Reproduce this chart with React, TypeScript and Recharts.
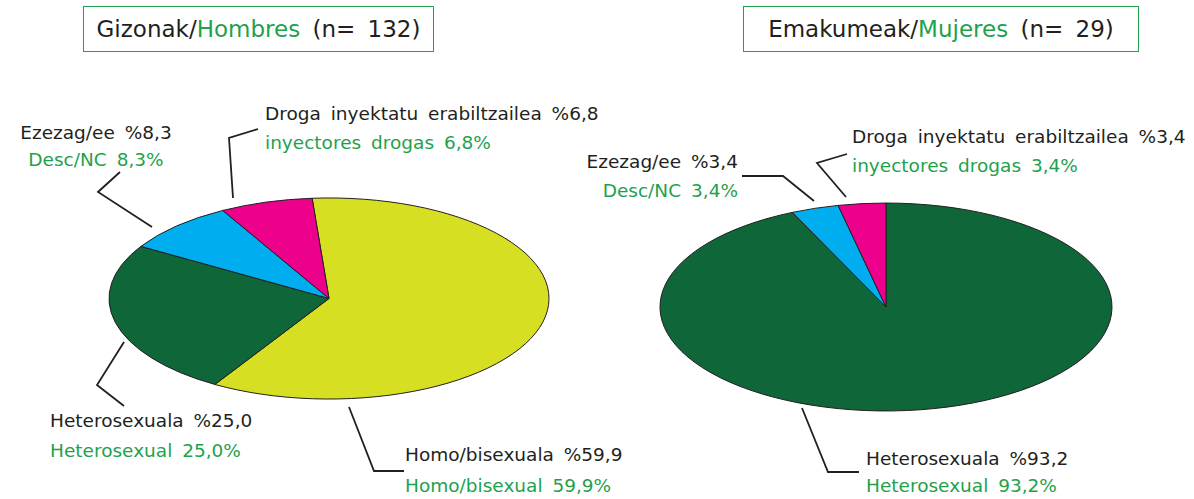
import React from "react";
import { PieChart, Pie, Cell } from "recharts";

// Gizonak / Hombres (n=132)
const MEN_EU = ["Homo/bisexuala", "Heterosexuala", "Ezezag/ee", "Droga inyektatu erabiltzailea"];
const MEN_ES = ["Homo/bisexual", "Heterosexual", "Desc/NC", "inyectores drogas"];
const MEN_VALUES = [59.9, 25.0, 8.3, 6.8];
const MEN_COLORS = ["#D7DF23", "#0F6638", "#00AEEF", "#EC008C"];

// Emakumeak / Mujeres (n=29)
const WOMEN_EU = ["Heterosexuala", "Ezezag/ee", "Droga inyektatu erabiltzailea"];
const WOMEN_ES = ["Heterosexual", "Desc/NC", "inyectores drogas"];
const WOMEN_VALUES = [93.2, 3.4, 3.4];
const WOMEN_COLORS = ["#0F6638", "#00AEEF", "#EC008C"];

const BLACK = "#231F20";
const GREEN = "#1FA14D";
const FONT = "'DejaVu Sans', sans-serif";

// flattening of the pies (ry / rx)
const MEN_PIE = { cx: 329, cy: 298.5, r: 220, k: 0.457 };
const WOMEN_PIE = { cx: 886, cy: 307, r: 226, k: 0.46 };

// label placement: leader line, text anchor, baselines
type LabelPos = { line: number[][]; x: number; y1: number; y2: number; anchor: "start" | "middle" | "end" };
const MEN_LABEL_POS: LabelPos[] = [
  { line: [[349, 407], [374, 471], [404, 471]], x: 405, y1: 461, y2: 492, anchor: "start" },
  { line: [[124, 342], [97, 385], [124, 406]], x: 50, y1: 427, y2: 457, anchor: "start" },
  { line: [[120, 172], [98, 192], [152, 227]], x: 96, y1: 139, y2: 166, anchor: "middle" },
  { line: [[258, 129], [229, 138], [233, 198]], x: 265, y1: 120, y2: 149, anchor: "start" },
];
const WOMEN_LABEL_POS: LabelPos[] = [
  { line: [[802, 408], [828, 472], [859, 472]], x: 866, y1: 465, y2: 492, anchor: "start" },
  { line: [[742, 176], [783, 176], [814, 201]], x: 738, y1: 168, y2: 197, anchor: "end" },
  { line: [[847, 154], [817, 163], [846, 197]], x: 852, y1: 143, y2: 172, anchor: "start" },
];

const fmt = (v: number) => v.toFixed(1).replace(".", ",");

const makeData = (eu: string[], es: string[], values: number[]) =>
  values.map((v, i) => ({ name: eu[i], es: es[i], value: v }));

const menData = makeData(MEN_EU, MEN_ES, MEN_VALUES);
const womenData = makeData(WOMEN_EU, WOMEN_ES, WOMEN_VALUES);

const makeLabel = (positions: LabelPos[]) => (props: any) => {
  const { index, payload } = props;
  const p = positions[index];
  const item = payload?.payload ?? payload;
  return (
    <g key={`lbl-${index}`}>
      <polyline
        points={p.line.map((pt) => pt.join(",")).join(" ")}
        fill="none"
        stroke={BLACK}
        strokeWidth={1.8}
      />
      <text x={p.x} y={p.y1} textAnchor={p.anchor} fill={BLACK} fontSize={18.5} fontFamily={FONT} wordSpacing={4}>
        {`${item.name} %${fmt(item.value)}`}
      </text>
      <text x={p.x} y={p.y2} textAnchor={p.anchor} fill={GREEN} fontSize={18.5} fontFamily={FONT} wordSpacing={4}>
        {`${item.es} ${fmt(item.value)}%`}
      </text>
    </g>
  );
};

const flatten = (cls: string, p: { cy: number; k: number }) =>
  `.${cls} .recharts-sector, path.${cls}-s { transform-box: view-box; transform-origin: 0 0; transform: translateY(${
    p.cy * (1 - p.k)
  }px) scaleY(${p.k}); vector-effect: non-scaling-stroke; }`;

const TitleBox = ({ left, width, eu, es, n }: { left: number; width: number; eu: string; es: string; n: number }) => (
  <div
    style={{
      position: "absolute",
      left,
      top: 6,
      width,
      height: 46,
      boxSizing: "border-box",
      border: `1.5px solid ${GREEN}`,
      fontFamily: FONT,
      fontSize: 23,
      color: BLACK,
      display: "flex",
      alignItems: "center",
      justifyContent: "center",
      wordSpacing: 5,
      whiteSpace: "pre",
    }}
  >
    {eu}/<span style={{ color: GREEN }}>{es}</span>
    {` (n= ${n})`}
  </div>
);

export default function App() {
  return (
    <div style={{ position: "absolute", left: 0, top: 0, width: 1194, height: 499, background: "#fff" }}>
      <style>{flatten("pie-men", MEN_PIE) + flatten("pie-women", WOMEN_PIE)}</style>
      <PieChart width={1194} height={499} margin={{ top: 0, right: 0, bottom: 0, left: 0 }}>
        <Pie
          className="pie-men"
          data={menData}
          dataKey="value"
          nameKey="name"
          cx={MEN_PIE.cx}
          cy={MEN_PIE.cy}
          outerRadius={MEN_PIE.r}
          startAngle={94.4}
          endAngle={-265.6}
          stroke={BLACK}
          strokeWidth={1}
          label={makeLabel(MEN_LABEL_POS)}
          labelLine={false}
          isAnimationActive={false}
        >
          {menData.map((d, i) => (
            <Cell key={d.name} className="pie-men-s" fill={MEN_COLORS[i]} />
          ))}
        </Pie>
        <Pie
          className="pie-women"
          data={womenData}
          dataKey="value"
          nameKey="name"
          cx={WOMEN_PIE.cx}
          cy={WOMEN_PIE.cy}
          outerRadius={WOMEN_PIE.r}
          startAngle={90}
          endAngle={-270}
          stroke={BLACK}
          strokeWidth={1}
          label={makeLabel(WOMEN_LABEL_POS)}
          labelLine={false}
          isAnimationActive={false}
        >
          {womenData.map((d, i) => (
            <Cell key={d.name} className="pie-women-s" fill={WOMEN_COLORS[i]} />
          ))}
        </Pie>
      </PieChart>
      <TitleBox left={83} width={351} eu="Gizonak" es="Hombres" n={132} />
      <TitleBox left={743} width={396} eu="Emakumeak" es="Mujeres" n={29} />
    </div>
  );
}
